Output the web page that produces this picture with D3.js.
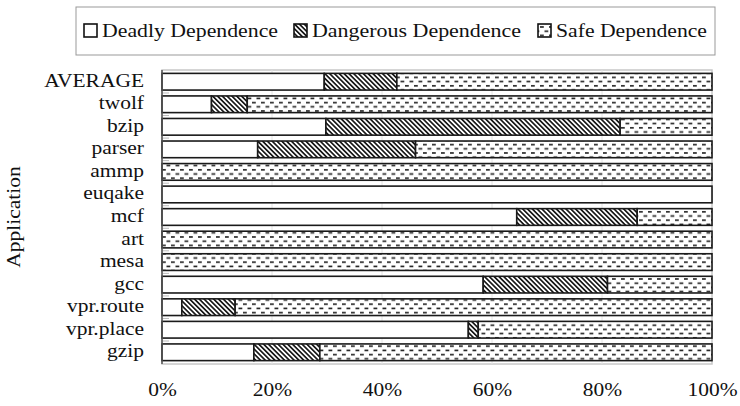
<!DOCTYPE html>
<html>
<head>
<meta charset="utf-8">
<script src="https://cdn.jsdelivr.net/npm/d3@7"></script>
<style>
  body { margin: 0; background: #fff; }
  text { font-family: "Liberation Serif", "Times New Roman", serif; fill: #111; }
</style>
</head>
<body>
<div id="chart"></div>
<script>
// applications, top to bottom
const apps = ['AVERAGE', 'twolf', 'bzip', 'parser', 'ammp', 'euqake', 'mcf', 'art', 'mesa', 'gcc', 'vpr.route', 'vpr.place', 'gzip'];
// shares in %
const deadly    = [29.5, 9.0, 29.8, 17.4, 0, 100, 64.5, 0, 0, 58.4, 3.6, 55.7, 16.7];
const dangerous = [13.2, 6.5, 53.5, 28.7, 0, 0, 21.9, 0, 0, 22.6, 9.7, 1.8, 12.0];
const safe      = apps.map((d, i) => Math.max(0, 100 - deadly[i] - dangerous[i]));
const seriesNames = ['Deadly Dependence', 'Dangerous Dependence', 'Safe Dependence'];
const xTicks = [0, 20, 40, 60, 80, 100];

const width = 740, height = 406;
const margin = { top: 70, right: 28, bottom: 42, left: 162 };
const stretch = 1.13; // the source text is a bit wider than Liberation Serif

function widen(sel, k) {
  sel.each(function () {
    const w = this.getComputedTextLength();
    d3.select(this).attr('textLength', w * k).attr('lengthAdjust', 'spacingAndGlyphs');
  });
}

const svg = d3.select('#chart').append('svg')
  .attr('width', width)
  .attr('height', height);

const defs = svg.append('defs');

// diagonal hatch for dangerous
const hatch = defs.append('pattern')
  .attr('id', 'hatch')
  .attr('patternUnits', 'userSpaceOnUse')
  .attr('width', 3.4).attr('height', 3.4)
  .attr('patternTransform', 'rotate(-45)');
hatch.append('rect').attr('width', 3.4).attr('height', 3.4).attr('fill', '#fff');
hatch.append('rect').attr('width', 1.7).attr('height', 3.4).attr('fill', '#1a1a1a');

// dashed dot pattern for safe
const dots = defs.append('pattern')
  .attr('id', 'dots')
  .attr('patternUnits', 'userSpaceOnUse')
  .attr('width', 9).attr('height', 8.4);
dots.append('rect').attr('width', 9).attr('height', 8.4).attr('fill', '#fff');
dots.append('rect').attr('x', 0).attr('y', 1).attr('width', 3.8).attr('height', 1.6).attr('fill', '#222');
dots.append('rect').attr('x', 4.5).attr('y', 5.2).attr('width', 3.8).attr('height', 1.6).attr('fill', '#222');

const fills = ['#fff', 'url(#hatch)', 'url(#dots)'];

const x = d3.scaleLinear()
  .domain([0, 100])
  .range([margin.left, width - margin.right]);

const y = d3.scaleBand()
  .domain(apps)
  .range([margin.top, height - margin.bottom])
  .paddingInner(0.26)
  .paddingOuter(0.15);

// plot frame and grid
const g = svg.append('g');
g.append('rect')
  .attr('x', x(0)).attr('y', margin.top)
  .attr('width', x(100) - x(0)).attr('height', height - margin.bottom - margin.top)
  .attr('fill', 'none').attr('stroke', '#c8c8c8').attr('stroke-width', 1.5);

g.selectAll('.grid')
  .data(xTicks.slice(1, -1))
  .enter()
  .append('line')
  .attr('x1', d => x(d)).attr('x2', d => x(d))
  .attr('y1', margin.top).attr('y2', height - margin.bottom)
  .attr('stroke', '#e4e4e4').attr('stroke-width', 1);

// small gray ticks between rows
g.selectAll('.ytick')
  .data(apps.slice(1))
  .enter()
  .append('line')
  .attr('x1', x(0)).attr('x2', x(0) + 7)
  .attr('y1', d => y(d) - y.step() * y.paddingInner() / 2)
  .attr('y2', d => y(d) - y.step() * y.paddingInner() / 2)
  .attr('stroke', '#bbb').attr('stroke-width', 1);

// stacked bars
const rows = apps.map((a, i) => ({ app: a, deadly: deadly[i], dangerous: dangerous[i], safe: safe[i] }));
const stack = d3.stack().keys(['deadly', 'dangerous', 'safe']);
const layers = stack(rows);

layers.forEach((layer, k) => {
  g.selectAll('.bar' + k)
    .data(layer.filter(d => d[1] - d[0] > 0.01))
    .enter()
    .append('rect')
    .attr('x', d => x(d[0]))
    .attr('y', d => y(d.data.app))
    .attr('width', d => x(d[1]) - x(d[0]))
    .attr('height', y.bandwidth())
    .attr('fill', fills[k])
    .attr('stroke', '#1a1a1a')
    .attr('stroke-width', 1.6);
});

// left axis line
g.append('line')
  .attr('x1', x(0)).attr('x2', x(0))
  .attr('y1', margin.top).attr('y2', height - margin.bottom)
  .attr('stroke', '#555').attr('stroke-width', 1.5);

// y labels
const yAxis = svg.append('g')
  .attr('transform', `translate(${x(0) - 18},0)`)
  .call(d3.axisLeft(y).tickSize(0).tickPadding(0));
yAxis.select('.domain').remove();
yAxis.selectAll('text')
  .attr('font-size', 19)
  .attr('dy', null)
  .attr('y', 5)
  .attr('font-family', '"Liberation Serif", serif')
  .call(widen, stretch);

// x labels
const xAxis = svg.append('g')
  .attr('transform', `translate(0,${height - margin.bottom})`)
  .call(d3.axisBottom(x).tickValues(xTicks).tickFormat(d => d + '%').tickSize(0).tickPadding(0));
xAxis.select('.domain').remove();
xAxis.selectAll('text')
  .attr('font-size', 19)
  .attr('dy', null)
  .attr('y', 32)
  .attr('font-family', '"Liberation Serif", serif')
  .call(widen, stretch);

// axis title
svg.append('text')
  .attr('transform', `translate(20,${(margin.top + height - margin.bottom) / 2}) rotate(-90)`)
  .attr('text-anchor', 'middle')
  .attr('font-size', 19)
  .text('Application')
  .call(widen, stretch);

// legend
const legend = svg.append('g');
legend.append('rect')
  .attr('x', 76).attr('y', 7)
  .attr('width', 639).attr('height', 48)
  .attr('fill', '#fff').attr('stroke', '#999').attr('stroke-width', 1);

const legendX = [84, 294, 538];
const legendW = [176, 209, 151];
seriesNames.forEach((name, k) => {
  legend.append('rect')
    .attr('x', legendX[k]).attr('y', 24)
    .attr('width', 13).attr('height', 13)
    .attr('fill', fills[k])
    .attr('stroke', '#111').attr('stroke-width', 1.6);
  legend.append('text')
    .attr('x', legendX[k] + 18).attr('y', 37)
    .attr('font-size', 19)
    .attr('textLength', legendW[k])
    .attr('lengthAdjust', 'spacingAndGlyphs')
    .text(name);
});
</script>
</body>
</html>
